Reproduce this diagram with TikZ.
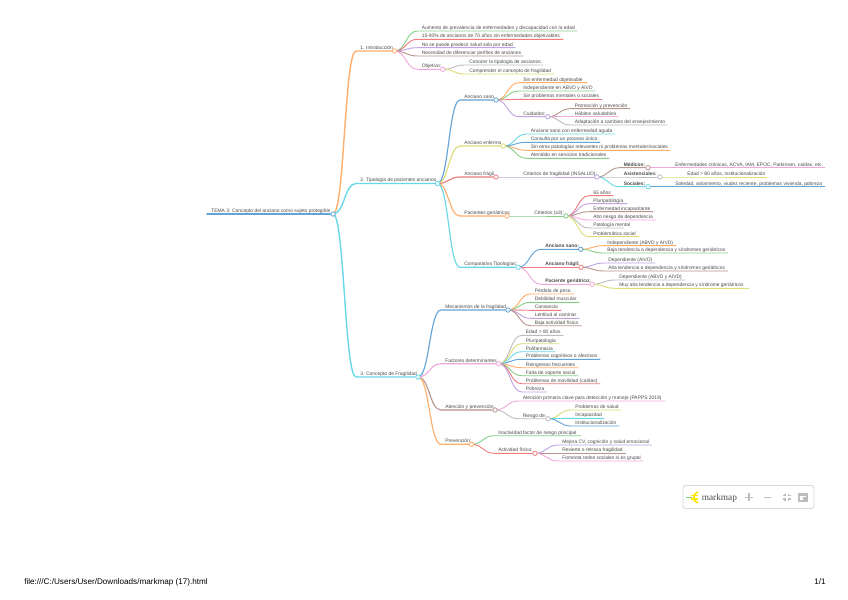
\documentclass[tikz,border=0pt]{standalone}
\usepackage{fontspec}
\setmainfont{Liberation Sans}
\newfontfamily\logofont{Liberation Serif}
\usetikzlibrary{calc}
\pgfdeclarelayer{fg}
\pgfsetlayers{main,fg}
\definecolor{cb}{HTML}{62A4D8}
\definecolor{co}{HTML}{FFAE6B}
\definecolor{cg}{HTML}{86CE86}
\definecolor{cr}{HTML}{EE7C7C}
\definecolor{cp}{HTML}{BFA3E2}
\definecolor{cn}{HTML}{B8958E}
\definecolor{ck}{HTML}{F2A8DC}
\definecolor{ca}{HTML}{BDBDBD}
\definecolor{cl}{HTML}{DCDC78}
\definecolor{cc}{HTML}{68D8E8}
\definecolor{txtc}{HTML}{4A4A4A}
\tikzset{
  txt/.style={font=\fontsize{3.68pt}{4pt}\selectfont,text=txtc,anchor=base west,inner sep=0pt},
  lnk/.style={line width=.68pt,line cap=round},
  la/.style={line width=1.05pt},
  lb/.style={line width=.85pt},
  dot/.style={circle,draw,fill=white,line width=.6pt,inner sep=0pt,minimum size=3.3pt},
  ctl/.style={draw=ca,line width=.8pt},
  foot/.style={font=\fontsize{6.1pt}{6.5pt}\selectfont,text=black,anchor=base west,inner sep=0pt}
}
% name parent style xs xe y text
\newcommand\mmleaf[7]{%
  \coordinate (#1s) at (#4,#6);
  \coordinate (#1e) at (#5,#6);
  \node[txt] (#1) at (#4+4,#6-1.6) {#7};
  \draw[lnk,#3] let \p1=(#2e), \p2=(#1s) in
    (\p1) .. controls ({(\x1+\x2)/2},\y1) and ({(\x1+\x2)/2},\y2) .. (\p2) -- (#1e);
}
\newcommand\mmnode[7]{%
  \begin{pgfonlayer}{fg}\node[dot,#3,dot] (#1e) at (#5,#6) {};\end{pgfonlayer}
  \coordinate (#1s) at (#4,#6);
  \node[txt] (#1) at (#4+4,#6-1.6) {#7};
  \draw[lnk,#3] let \p1=(#2e), \p2=(#1s) in
    (\p1) .. controls ({(\x1+\x2)/2},\y1) and ({(\x1+\x2)/2},\y2) .. (\p2) -- (#1e);
}
\begin{document}
\begin{tikzpicture}[x=.75pt,y=-.75pt]
\useasboundingbox (0,0) rectangle (848,599);
\fill[white] (0,0) rectangle (848,599);
% root
\begin{pgfonlayer}{fg}\node[dot,cb,dot] (roote) at (333,214) {};\end{pgfonlayer}
\coordinate (roots) at (207,214);
\node[txt] (root) at (211,212.4) {TEMA 3: Concepto del anciano como sujeto protegible};
\draw[lnk,la,cb] (roots) -- (roote);
% level 1
\mmnode{a}{root}{co,la}{356}{394.5}{51}{1. Introducción}
\mmnode{b}{root}{cc,la}{356}{437.5}{183.5}{2. Tipología de pacientes ancianos}
\mmnode{c}{root}{cc,la}{356}{418}{377}{3. Concepto de Fragilidad}
% 1
\mmleaf{a1}{a}{cg}{417.5}{577}{31}{Aumento de prevalencia de enfermedades y discapacidad con la edad}
\mmleaf{a2}{a}{cr}{417.5}{563}{39.3}{15-40\% de ancianos de 70 años sin enfermedades objetivables}
\mmleaf{a3}{a}{cp}{417.5}{515}{47.7}{No se puede predecir salud solo por edad}
\mmleaf{a4}{a}{cn}{417.5}{523}{56}{Necesidad de diferenciar perfiles de ancianos}
\mmnode{a5}{a}{ck}{417.5}{442.7}{69.3}{Objetivo:}
\mmleaf{a51}{a5}{ca}{465}{543}{65}{Conocer la tipología de ancianos.}
\mmleaf{a52}{a5}{cl}{465}{554}{74}{Comprender el concepto de fragilidad}
% 2
\mmnode{b1}{b}{cb,lb}{460}{496}{100}{Anciano sano}
\mmleaf{b11}{b1}{co}{519}{587}{82.7}{Sin enfermedad objetivable}
\mmleaf{b12}{b1}{cg}{519}{595}{91}{Independiente en ABVD y AIVD}
\mmleaf{b13}{b1}{cr}{519}{602}{99.3}{Sin problemas mentales o sociales}
\mmnode{b14}{b1}{cp}{519}{547.7}{116.7}{Cuidados:}
\mmleaf{b141}{b14}{cn}{570.5}{630}{108.7}{Promoción y prevención}
\mmleaf{b142}{b14}{ck}{570.5}{618}{116.7}{Hábitos saludables}
\mmleaf{b143}{b14}{ca}{570.5}{667}{125}{Adaptación a cambios del envejecimiento}
\mmnode{b2}{b}{cl,lb}{460}{503.3}{146}{Anciano enfermo}
\mmleaf{b21}{b2}{cc}{526.5}{615}{134}{Anciano sano con enfermedad aguda}
\mmleaf{b22}{b2}{cb}{526.5}{600}{142.3}{Consulta por un proceso único}
\mmleaf{b23}{b2}{co}{526.5}{670}{150.3}{Sin otras patologías relevantes ni problemas mentales/sociales}
\mmleaf{b24}{b2}{cg}{526.5}{609}{158.3}{Atendido en servicios tradicionales}
\mmnode{b3}{b}{cr,lb}{460}{496}{177}{Anciano frágil}
\mmnode{b31}{b3}{cp}{519}{597}{177}{Criterios de fragilidad (INSALUD):}
\mmnode{b311}{b31}{cn}{619.5}{648}{167.7}{\textbf{Médicos:}}
\mmleaf{b3111}{b311}{ck}{671}{825}{167.7}{Enfermedades crónicas, ACVA, IAM, EPOC, Parkinson, caídas, etc.}
\mmnode{b312}{b31}{ca}{619.5}{660}{177}{\textbf{Asistenciales:}}
\mmleaf{b3121}{b312}{cl}{683}{767}{177}{Edad > 80 años, institucionalización}
\mmnode{b313}{b31}{cc}{619.5}{648}{186.7}{\textbf{Sociales:}}
\mmleaf{b3131}{b313}{cb}{671}{825}{186.7}{Soledad, aislamiento, viudez reciente, problemas vivienda, pobreza}
\mmnode{b4}{b}{co,lb}{460}{507}{216}{Pacientes geriátricos}
\mmnode{b41}{b4}{cg}{530}{566}{216}{Criterios (≥3):}
\mmleaf{b411}{b41}{cr}{589}{613}{195.7}{65 años}
\mmleaf{b412}{b41}{cp}{589}{627}{203.7}{Pluripatología}
\mmleaf{b413}{b41}{cn}{589}{653}{211.7}{Enfermedad incapacitante}
\mmleaf{b414}{b41}{ck}{589}{656}{220}{Alto riesgo de dependencia}
\mmleaf{b415}{b41}{ca}{589}{624}{228}{Patología mental}
\mmleaf{b416}{b41}{cl}{589}{639}{236.7}{Problemática social}
\mmnode{b5}{b}{cc,lb}{460}{518}{267.3}{Comparativa Tipologías:}
\mmnode{b51}{b5}{cb}{541}{580.7}{249.3}{\textbf{Anciano sano:}}
\mmleaf{b511}{b51}{co}{603}{676}{245.7}{Independiente (ABVD y AIVD)}
\mmleaf{b512}{b51}{cg}{603}{728}{253}{Baja tendencia a dependencia y síndromes geriátricos}
\mmnode{b52}{b5}{cr}{541}{581}{267.3}{\textbf{Anciano frágil:}}
\mmleaf{b521}{b52}{cp}{604}{655}{263}{Dependiente (AIVD)}
\mmleaf{b522}{b52}{cn}{604}{727.7}{271}{Alta tendencia a dependencia y síndromes geriátricos}
\mmnode{b53}{b5}{ck}{541}{592}{284.3}{\textbf{Paciente geriátrico:}}
\mmleaf{b531}{b53}{ca}{615}{685}{280}{Dependiente (ABVD y AIVD)}
\mmleaf{b532}{b53}{cl}{615}{749}{288.3}{Muy alta tendencia a dependencia y síndrome geriátricos}
% 3
\mmnode{c1}{c}{cb,lb}{441}{508}{310}{Mecanismos de la fragilidad}
\mmleaf{c11}{c1}{co}{530.5}{574}{294}{Pérdida de peso}
\mmleaf{c12}{c1}{cg}{530.5}{579}{302.3}{Debilidad muscular}
\mmleaf{c13}{c1}{cr}{530.5}{561}{310.3}{Cansancio}
\mmleaf{c14}{c1}{cp}{530.5}{579}{318.3}{Lentitud al caminar}
\mmleaf{c15}{c1}{cn}{530.5}{581.7}{325.7}{Baja actividad física}
\mmnode{c2}{c}{ck,lb}{441}{498.7}{363.7}{Factores determinantes}
\mmleaf{c21}{c2}{ca}{521.7}{563}{335.3}{Edad > 80 años}
\mmleaf{c22}{c2}{cl}{521.7}{559}{343.7}{Pluripatología}
\mmleaf{c23}{c2}{cc}{521.7}{555}{351.7}{Polifarmacia}
\mmleaf{c24}{c2}{cb}{521.7}{600}{359.3}{Problemas cognitivos o afectivos}
\mmleaf{c25}{c2}{co}{521.7}{578}{367.7}{Reingresos frecuentes}
\mmleaf{c26}{c2}{cg}{521.7}{578}{375.7}{Falta de soporte social}
\mmleaf{c27}{c2}{cr}{521.7}{600}{383.7}{Problemas de movilidad (caídas)}
\mmleaf{c28}{c2}{cp}{521.7}{546.7}{392}{Pobreza}
\mmnode{c3}{c}{cn,lb}{441}{495}{410}{Atención y prevención:}
\mmleaf{c31}{c3}{ck}{518.5}{665}{401}{Atención primaria clave para detección y manejo (PAPPS 2019)}
\mmnode{c32}{c3}{ca}{518.5}{548}{418.7}{Riesgo de:}
\mmleaf{c321}{c32}{cl}{571}{621}{410}{Problemas de salud}
\mmleaf{c322}{c32}{cc}{571}{604}{418.3}{Incapacidad}
\mmleaf{c323}{c32}{cb}{571}{619}{426}{Institucionalización}
\mmnode{c4}{c}{co,lb}{441}{471.7}{444.3}{Prevención:}
\mmleaf{c41}{c4}{cg}{494}{581}{435.7}{Inactividad factor de riesgo principal}
\mmnode{c42}{c4}{cr}{494}{535}{453.3}{Actividad física:}
\mmleaf{c421}{c42}{cp}{558}{651.7}{445}{Mejora CV, cognición y salud emocional}
\mmleaf{c422}{c42}{cn}{558}{625.7}{453.3}{Revierte o retrasa fragilidad}
\mmleaf{c423}{c42}{ck}{558}{643}{461}{Fomenta redes sociales si es grupal}
% toolbar
\draw[draw=black!15,line width=.7pt,rounded corners=2pt,fill=white] (683,485.5) rectangle (814,508.5);
\draw[line width=1.3pt,color=yellow!90!orange] (698,492) .. controls (692.5,493) and (692.5,502) .. (698,503);
\draw[line width=.8pt,color=yellow!90!orange] (691,495.8) -- (698,495.8) (691,499) -- (698,499);
\draw[line width=.9pt,color=cg] (686,497.5) -- (692,497.5);
\node[font=\logofont\fontsize{7pt}{8pt}\selectfont,text=txtc,anchor=base west,inner sep=0pt] (logo) at (701.5,500) {markmap};
\draw[ctl] (745,497.3) -- (753,497.3) (749,493.3) -- (749,501.3);
\draw[ctl] (764,497.3) -- (771,497.3);
\draw[ctl] (783,495.5) -- (785,495.5) -- (785,493.5) (788.5,493.5) -- (788.5,495.5) -- (790.5,495.5)
  (783,499) -- (785,499) -- (785,501) (788.5,501) -- (788.5,499) -- (790.5,499);
\draw[ctl] (799,493.5) rectangle (807,501) (799,495) -- (807,495);
\fill[ca] (803,497) rectangle (807,501);
% footer
\node[foot] (url) at (24,584) {file:///C:/Users/User/Downloads/markmap (17).html};
\node[foot] (page) at (814,584) {1/1};
\end{tikzpicture}
\end{document}
